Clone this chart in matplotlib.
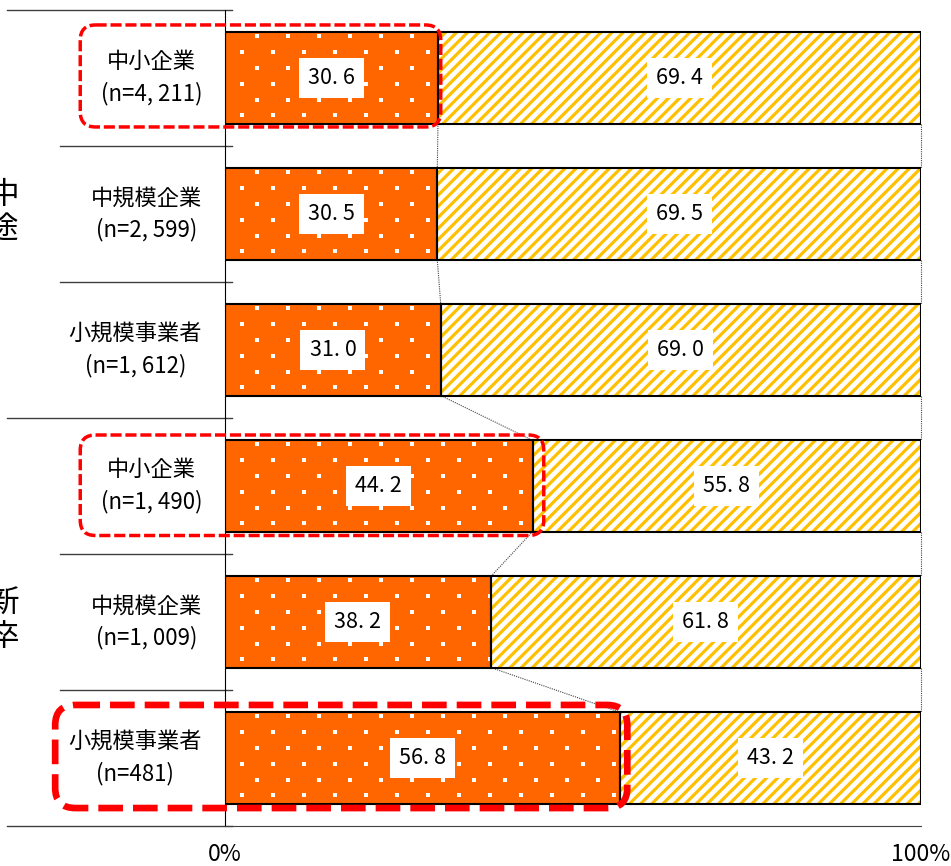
import matplotlib.pyplot as plt
from matplotlib.patches import FancyBboxPatch
import numpy as np

plt.rcParams['font.family'] = ['Noto Sans CJK JP', 'DejaVu Sans']
plt.rcParams['hatch.linewidth'] = 2.3

# 採用区分・企業規模別の割合（%）
groups = ['中途', '新卒']
sizes = ['中小企業', '中規模企業', '小規模事業者', '中小企業', '中規模企業', '小規模事業者']
counts = [4211, 2599, 1612, 1490, 1009, 481]
share_a = [30.6, 30.5, 31.0, 44.2, 38.2, 56.8]
share_b = [69.4, 69.5, 69.0, 55.8, 61.8, 43.2]
xticks = [0, 100]
xticklabels = ['0%', '100%']

ORANGE = '#FF6600'
YELLOW = '#FFC000'
RED = '#FF0000'

W, H = 951, 866
fig = plt.figure(figsize=(W / 100, H / 100), dpi=100)
ax = fig.add_axes([225 / W, 40 / H, 696 / W, 816 / H])

y = np.arange(len(sizes))
h = 0.67
ax.set_xlim(0, 100)
ax.set_ylim(len(y) - 0.5, -0.5)

# px -> data の換算
px_x = 100 / 696
px_y = len(y) / 816

bars_a = ax.barh(y, share_a, height=h, color=ORANGE, linewidth=0, zorder=2)
ax.barh(y, share_a, height=h, fill=False, edgecolor='black', linewidth=1.5, zorder=4)
ax.barh(y, share_b, left=share_a, height=h, color='white', edgecolor=YELLOW,
        hatch='///', linewidth=0, zorder=2)
ax.barh(y, share_b, left=share_a, height=h, fill=False, edgecolor='black',
        linewidth=1.5, zorder=4)

# オレンジ棒の白ドット模様
for bar in bars_a:
    x0, y0, bw = bar.get_x(), bar.get_y(), bar.get_width()
    xs, ys = [], []
    for r in range(6):
        yy = y0 + (4 + 15.8 * r) * px_y
        j = 0
        while (16.7 + 15.5 * j) * px_x < x0 + bw:
            if (j + r) % 2 == 1:
                xs.append(x0 + (16.7 + 15.5 * j) * px_x)
                ys.append(yy)
            j += 1
    sc = ax.scatter(xs, ys, s=8, marker='s', color='white', linewidths=0, zorder=3)
    sc.set_clip_path(bar)

# 系列線
total = [a + b for a, b in zip(share_a, share_b)]
for i in range(len(y) - 1):
    for s in (share_a, total):
        ax.plot([s[i], s[i + 1]], [y[i] + h / 2, y[i + 1] - h / 2],
                color='#444444', lw=0.8, ls=(0, (1, 1)), zorder=1, clip_on=False)

def fmt(v):
    return f'{v:.1f}'.replace('.', '. ')

box = dict(boxstyle='square,pad=0.42', fc='white', ec='none')
for i in y:
    ax.text(share_a[i] / 2, i, fmt(share_a[i]), ha='center', va='center',
            fontsize=15.5, bbox=box, zorder=5)
    ax.text(share_a[i] + share_b[i] / 2, i, fmt(share_b[i]), ha='center',
            va='center', fontsize=15.5, bbox=box, zorder=5)

ytr = ax.get_yaxis_transform()
for i in y:
    n = f'{counts[i]:,}'.replace(',', ', ')
    ax.text(-0.033, i, f'{sizes[i]}\n(n={n})', ha='right', va='center',
            multialignment='center', fontsize=16, linespacing=1.45, transform=ytr)

for g, gy in zip(groups, [1, 4]):
    ax.text(-0.318, gy - 0.01, '\n'.join(g), ha='center', va='center', fontsize=22,
            linespacing=1.15, transform=ytr, clip_on=False)

# 左側の区切り線
for yy in [-0.5, 2.5, 5.5]:
    ax.plot([-0.313, 0.01], [yy, yy], transform=ytr, color='#404040', lw=1,
            clip_on=False)
for yy in [0.5, 1.5, 3.5, 4.5]:
    ax.plot([-165 / 696, 0.01], [yy, yy], transform=ytr, color='#404040', lw=1,
            clip_on=False)

# 強調枠（行, 左端, 右余白, 上, 下, 角丸, 線幅, 破線）
frames = [
    (0, -20.8, 0.4, 0.39, 0.36, 2.2, 2.5, (0, (3.2, 1.1))),
    (3, -20.8, 1.6, 0.375, 0.364, 2.2, 2.5, (0, (3.2, 1.1))),
    (5, -24.4, 1.0, 0.39, 0.368, 2.9, 4.8, (0, (3.7, 1.5))),
]
for row, left, rpad, top, bot, rad, lw, ls in frames:
    right = share_a[row] + rpad
    p = FancyBboxPatch((left, row - top), right - left, top + bot,
                       boxstyle=f'round,pad=0,rounding_size={rad}',
                       mutation_aspect=px_y / px_x, fill=False, edgecolor=RED,
                       lw=lw, ls=ls, zorder=6, clip_on=False)
    ax.add_patch(p)

ax.set_xticks(xticks)
ax.set_xticklabels(xticklabels)
ax.set_yticks([])
ax.tick_params(axis='x', length=0, pad=12, labelsize=16.5)
for side in ['top', 'right']:
    ax.spines[side].set_visible(False)
ax.spines['left'].set_color('black')
ax.spines['bottom'].set_color('#404040')

fig.savefig('out.png', dpi=100)
